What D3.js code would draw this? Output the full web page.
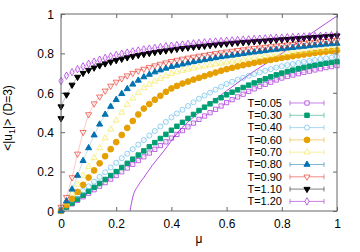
<!DOCTYPE html>
<html>
<head>
<meta charset="utf-8">
<script src="https://cdn.jsdelivr.net/npm/d3@7"></script>
<style>
  body { margin: 0; background: #fff; }
  text { font-family: "Liberation Sans", Arial, sans-serif; font-size: 12px; fill: #000; }
</style>
</head>
<body>
<div id="chart"></div>
<script>
// mu grid shared by every series (step 0.02)
var mu = [0, 0.02, 0.04, 0.06, 0.08, 0.10, 0.12, 0.14, 0.16, 0.18, 0.20, 0.22, 0.24, 0.26, 0.28, 0.30,
          0.32, 0.34, 0.36, 0.38, 0.40, 0.42, 0.44, 0.46, 0.48, 0.50, 0.52, 0.54, 0.56, 0.58, 0.60,
          0.62, 0.64, 0.66, 0.68, 0.70, 0.72, 0.74, 0.76, 0.78, 0.80, 0.82, 0.84, 0.86, 0.88, 0.90,
          0.92, 0.94, 0.96, 0.98, 1.00];

var t005 = [0, 0.018, 0.036, 0.054, 0.072, 0.090, 0.108, 0.126, 0.144, 0.162, 0.180, 0.199, 0.218, 0.237, 0.256, 0.275,
            0.294, 0.313, 0.332, 0.351, 0.370, 0.389, 0.408, 0.427, 0.446, 0.465, 0.482, 0.499, 0.516, 0.533, 0.550,
            0.565, 0.579, 0.593, 0.607, 0.620, 0.632, 0.643, 0.654, 0.665, 0.675, 0.683, 0.690, 0.697, 0.704, 0.710,
            0.716, 0.722, 0.728, 0.733, 0.738];
var t030 = [0, 0.020, 0.040, 0.060, 0.080, 0.100, 0.120, 0.140, 0.160, 0.180, 0.200, 0.221, 0.242, 0.263, 0.284, 0.305,
            0.326, 0.347, 0.368, 0.389, 0.410, 0.430, 0.450, 0.470, 0.490, 0.510, 0.527, 0.544, 0.560, 0.575, 0.590,
            0.603, 0.615, 0.627, 0.639, 0.650, 0.661, 0.671, 0.681, 0.691, 0.700, 0.708, 0.715, 0.722, 0.729, 0.735,
            0.740, 0.745, 0.750, 0.754, 0.758];
var t040 = [0.010, 0.033, 0.056, 0.079, 0.102, 0.125, 0.149, 0.173, 0.197, 0.221, 0.245, 0.268, 0.291, 0.314, 0.337, 0.360,
            0.383, 0.406, 0.429, 0.452, 0.475, 0.495, 0.514, 0.533, 0.552, 0.570, 0.586, 0.601, 0.616, 0.631, 0.645,
            0.656, 0.666, 0.676, 0.686, 0.695, 0.704, 0.712, 0.720, 0.728, 0.735, 0.741, 0.746, 0.751, 0.757, 0.762,
            0.766, 0.771, 0.775, 0.779, 0.783];
var t060 = [0, 0.030, 0.062, 0.097, 0.133, 0.170, 0.206, 0.242, 0.278, 0.314, 0.350, 0.386, 0.422, 0.457, 0.490, 0.520,
            0.543, 0.565, 0.585, 0.605, 0.622, 0.635, 0.647, 0.657, 0.667, 0.676, 0.685, 0.694, 0.703, 0.712, 0.720,
            0.727, 0.734, 0.740, 0.746, 0.752, 0.757, 0.762, 0.767, 0.772, 0.777, 0.781, 0.786, 0.790, 0.794, 0.798,
            0.802, 0.805, 0.809, 0.812, 0.815];
var t070 = [0, 0.040, 0.090, 0.135, 0.180, 0.225, 0.270, 0.320, 0.370, 0.415, 0.460, 0.500, 0.540, 0.572, 0.600, 0.625,
            0.642, 0.658, 0.672, 0.685, 0.697, 0.706, 0.713, 0.719, 0.725, 0.730, 0.735, 0.740, 0.745, 0.750, 0.755,
            0.760, 0.765, 0.770, 0.775, 0.779, 0.783, 0.787, 0.791, 0.795, 0.799, 0.802, 0.806, 0.809, 0.812, 0.815,
            0.818, 0.821, 0.824, 0.827, 0.829];
var t080 = [0, 0.050, 0.110, 0.180, 0.255, 0.320, 0.385, 0.440, 0.490, 0.530, 0.565, 0.595, 0.620, 0.643, 0.663, 0.680,
            0.693, 0.705, 0.715, 0.724, 0.732, 0.739, 0.745, 0.751, 0.757, 0.762, 0.767, 0.772, 0.777, 0.782, 0.786,
            0.790, 0.794, 0.798, 0.802, 0.806, 0.810, 0.813, 0.817, 0.820, 0.823, 0.826, 0.829, 0.832, 0.835, 0.838,
            0.841, 0.843, 0.846, 0.848, 0.850];
var t090 = [0.020, 0.070, 0.170, 0.290, 0.400, 0.490, 0.545, 0.580, 0.610, 0.635, 0.655, 0.672, 0.687, 0.700, 0.711, 0.721,
            0.730, 0.738, 0.746, 0.753, 0.760, 0.766, 0.772, 0.777, 0.782, 0.787, 0.791, 0.796, 0.800, 0.804, 0.808,
            0.812, 0.816, 0.819, 0.823, 0.826, 0.829, 0.832, 0.835, 0.838, 0.841, 0.844, 0.847, 0.850, 0.853, 0.855,
            0.858, 0.860, 0.862, 0.865, 0.867];
// T=1.10 has a second point at mu=0
var mu110 = [0].concat(mu);
var t110 = [0.470, 0.530, 0.590, 0.640, 0.680, 0.700, 0.715, 0.727, 0.738, 0.748, 0.757, 0.765, 0.772, 0.779, 0.785, 0.791, 0.796,
            0.801, 0.806, 0.810, 0.814, 0.818, 0.822, 0.826, 0.829, 0.832, 0.835, 0.838, 0.841, 0.844, 0.847, 0.849,
            0.852, 0.854, 0.856, 0.858, 0.860, 0.862, 0.864, 0.866, 0.868, 0.870, 0.872, 0.874, 0.876, 0.878, 0.880,
            0.882, 0.884, 0.886, 0.888, 0.890];
var t120 = [0.660, 0.687, 0.705, 0.720, 0.734, 0.747, 0.758, 0.768, 0.777, 0.785, 0.792, 0.798, 0.804, 0.810, 0.815, 0.820,
            0.824, 0.828, 0.832, 0.836, 0.839, 0.842, 0.845, 0.848, 0.851, 0.853, 0.856, 0.858, 0.860, 0.862, 0.864,
            0.866, 0.868, 0.870, 0.871, 0.873, 0.875, 0.876, 0.878, 0.879, 0.880, 0.882, 0.883, 0.884, 0.886, 0.887,
            0.888, 0.889, 0.890, 0.892, 0.893];

// thin purple reference curve
var curveMu = [0.25, 0.26, 0.28, 0.30, 0.33, 0.37, 0.43, 0.50, 0.60, 0.70, 0.80, 0.90, 1.00];
var curveU  = [0.00, 0.07, 0.13, 0.17, 0.23, 0.30, 0.41, 0.50, 0.61, 0.71, 0.80, 0.895, 0.99];

var labels  = ["T=0.05", "T=0.30", "T=0.40", "T=0.60", "T=0.70", "T=0.80", "T=0.90", "T=1.10", "T=1.20"];
var xTicks  = [0, 0.2, 0.4, 0.6, 0.8, 1];
var yTicks  = [0, 0.2, 0.4, 0.6, 0.8, 1];

var series = [
    {label: labels[0], x: mu,    y: t005, color: "#9400d3", shape: d3.symbolSquare,   fill: false, size: 18, rot: 0},
    {label: labels[1], x: mu,    y: t030, color: "#009e73", shape: d3.symbolSquare,   fill: true,  size: 20, rot: 0},
    {label: labels[2], x: mu,    y: t040, color: "#56b4e9", shape: d3.symbolCircle,   fill: false, size: 20, rot: 0},
    {label: labels[3], x: mu,    y: t060, color: "#e69f00", shape: d3.symbolCircle,   fill: true,  size: 26, rot: 0},
    {label: labels[4], x: mu,    y: t070, color: "#f0e442", shape: d3.symbolTriangle, fill: false, size: 16, rot: 0},
    {label: labels[5], x: mu,    y: t080, color: "#0072b2", shape: d3.symbolTriangle, fill: true,  size: 16, rot: 0},
    {label: labels[6], x: mu,    y: t090, color: "#e51e10", shape: d3.symbolTriangle, fill: false, size: 16, rot: 180},
    {label: labels[7], x: mu110, y: t110, color: "#000000", shape: d3.symbolTriangle, fill: true,  size: 16, rot: 180},
    {label: labels[8], x: mu,    y: t120, color: "#9400d3", shape: d3.symbolDiamond,  fill: false, size: 16, rot: 0}
];

var width = 360, height = 252;
var margin = {top: 14, right: 23, bottom: 41, left: 61};
var inner_width = width - margin.left - margin.right;
var inner_height = height - margin.top - margin.bottom;

var svg = d3.select("#chart").append("svg")
    .attr("width", width)
    .attr("height", height);

var x_scale = d3.scaleLinear().domain([0, 1]).range([0, inner_width]);
var y_scale = d3.scaleLinear().domain([0, 1]).range([inner_height, 0]);

var g = svg.append("g")
    .attr("transform", "translate(" + margin.left + "," + margin.top + ")");

g.append("clipPath").attr("id", "clip")
  .append("rect").attr("width", inner_width).attr("height", inner_height);

//Axes: ticks pointing inward, mirrored on top/right
var frame = "#666";
var axB = g.append("g").attr("transform", "translate(0," + inner_height + ")")
    .call(d3.axisBottom(x_scale).tickValues(xTicks).tickSize(-4).tickPadding(10).tickFormat(d3.format("")));
var axT = g.append("g")
    .call(d3.axisTop(x_scale).tickValues(xTicks).tickSize(-4).tickFormat(""));
var axL = g.append("g")
    .call(d3.axisLeft(y_scale).tickValues(yTicks).tickSize(-4).tickPadding(10).tickFormat(d3.format("")));
var axR = g.append("g").attr("transform", "translate(" + inner_width + ",0)")
    .call(d3.axisRight(y_scale).tickValues(yTicks).tickSize(-4).tickFormat(""));
[axB, axT, axL, axR].forEach(function(a) {
    a.select(".domain").remove();
    a.selectAll("line").attr("stroke", frame);
    a.selectAll("text").attr("font-family", null).attr("font-size", null).style("font-size", "12px");
});
axB.selectAll("text").attr("dy", null).attr("y", 17);
axL.selectAll("text").attr("x", -7).attr("dy", "0.35em");

//Reference curve
var plot = g.append("g").attr("clip-path", "url(#clip)");
var refLine = d3.line()
    .x(function(d, i) { return x_scale(curveMu[i]); })
    .y(function(d) { return y_scale(d); })
    .curve(d3.curveMonotoneX);
plot.append("path")
    .attr("d", refLine(curveU))
    .attr("fill", "none")
    .attr("stroke", "#9400d3")
    .attr("stroke-opacity", 0.7)
    .attr("stroke-width", 1);

//Series: thin connecting line + markers
series.forEach(function(s) {
    var line = d3.line()
        .x(function(d, i) { return x_scale(s.x[i]); })
        .y(function(d) { return y_scale(d); });
    plot.append("path")
        .attr("d", line(s.y))
        .attr("fill", "none")
        .attr("stroke", s.color)
        .attr("stroke-opacity", 0.4)
        .attr("stroke-width", 0.6);
});
series.forEach(function(s) {
    var sym = d3.symbol().type(s.shape).size(s.size);
    g.append("g").selectAll("path")
        .data(s.y)
        .enter().append("path")
        .attr("d", sym)
        .attr("transform", function(d, i) {
            return "translate(" + x_scale(s.x[i]) + "," + y_scale(d) + ") rotate(" + s.rot + ")";
        })
        .attr("fill", s.fill ? s.color : "none")
        .attr("stroke", s.color)
        .attr("stroke-opacity", s.fill ? 1 : 0.6)
        .attr("stroke-width", 1);
});

//Border
g.append("rect")
    .attr("width", inner_width)
    .attr("height", inner_height)
    .attr("fill", "none")
    .attr("stroke", frame)
    .attr("stroke-width", 1);

//Legend
var legend = svg.append("g").attr("transform", "translate(282,103)");
series.forEach(function(s, i) {
    var row = legend.append("g").attr("transform", "translate(0," + (i * 12.3) + ")");
    row.append("text").attr("x", 0).attr("dy", "0.35em").attr("text-anchor", "end")
        .style("font-size", "11px").text(s.label);
    row.append("line").attr("x1", 8).attr("x2", 42).attr("stroke", s.color).attr("stroke-opacity", 0.5);
    row.append("line").attr("x1", 8).attr("x2", 8).attr("y1", -2.5).attr("y2", 2.5).attr("stroke", s.color).attr("stroke-opacity", 0.5);
    row.append("line").attr("x1", 42).attr("x2", 42).attr("y1", -2.5).attr("y2", 2.5).attr("stroke", s.color).attr("stroke-opacity", 0.5);
    row.append("path")
        .attr("d", d3.symbol().type(s.shape).size(s.size))
        .attr("transform", "translate(25,0) rotate(" + s.rot + ")")
        .attr("fill", s.fill ? s.color : "#fff")
        .attr("stroke", s.color)
        .attr("stroke-opacity", s.fill ? 1 : 0.6)
        .attr("stroke-width", 1);
});

//Axis labels
svg.append("text")
    .attr("x", margin.left + inner_width / 2)
    .attr("y", 243)
    .attr("text-anchor", "middle")
    .text("\u03BC");

var ylab = svg.append("text")
    .attr("transform", "translate(12," + 118 + ") rotate(-90)")
    .attr("text-anchor", "middle");
ylab.append("tspan").text("<|u");
ylab.append("tspan").attr("dy", 3).style("font-size", "9px").text("1");
ylab.append("tspan").attr("dy", -3).text("|> (D=3)");
</script>
</body>
</html>
